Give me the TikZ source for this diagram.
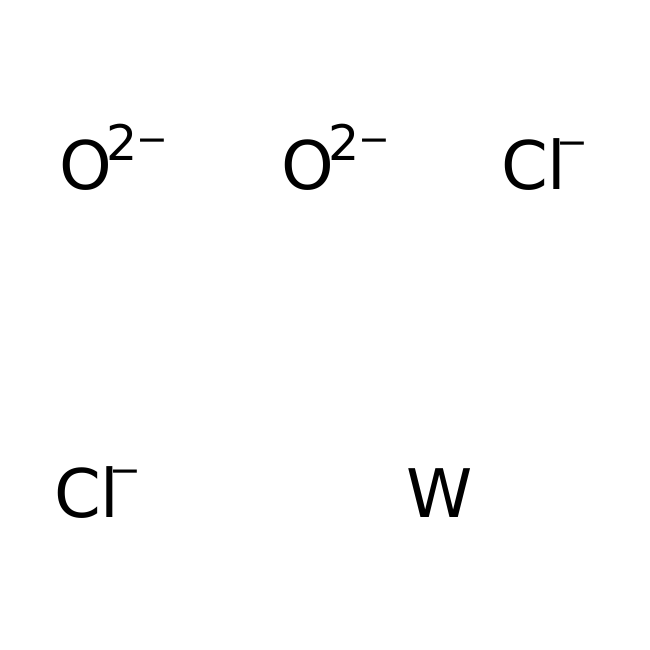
\documentclass[tikz,border=0pt]{standalone}
\usepackage{fontspec}
\setmainfont{DejaVu Sans}
\newcommand{\chargeminus}[1]{\raisebox{#1}{\fontsize{38}{38}\selectfont −}}
\newcommand{\chargetwo}{\kern-5pt\raisebox{29pt}{\fontsize{49}{49}\selectfont 2}\kern-2pt\chargeminus{37.5pt}}
\begin{document}
\begin{tikzpicture}[x=1pt,y=1pt]
    \tikzset{atom/.style={inner sep=0pt,anchor=base west,font=\fontsize{67}{67}\selectfont}}
    \useasboundingbox (0,0) rectangle (650,650);

    % top row
    \node[atom] (o1)  at (59,460)  {O\chargetwo};
    \node[atom] (o2)  at (281,460) {O\chargetwo};
    \node[atom] (cl1) at (501,460) {Cl\kern-10pt\chargeminus{34.5pt}};

    % bottom row
    \node[atom] (cl2) at (54,132)  {Cl\kern-10pt\chargeminus{34.5pt}};
    \node[atom] (w)   at (406,132) {W};
\end{tikzpicture}
\end{document}
